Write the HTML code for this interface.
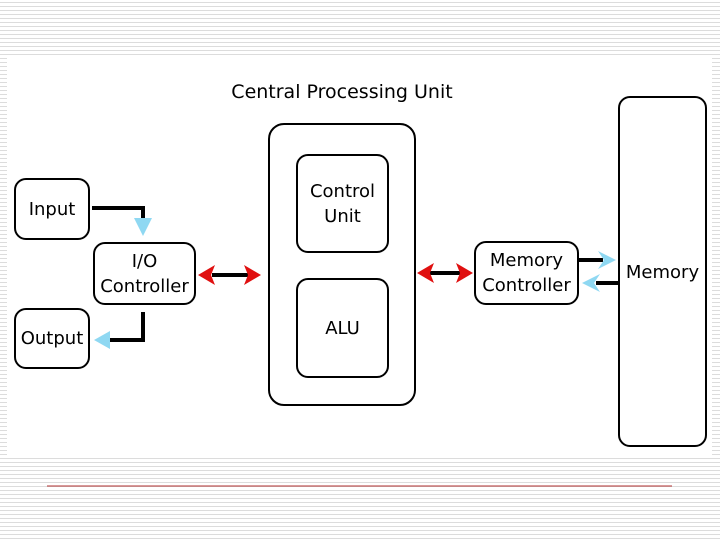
<!DOCTYPE html>
<html><head><style>
html,body{margin:0;padding:0}
body{width:720px;height:540px;position:relative;overflow:hidden;background:repeating-linear-gradient(to bottom,#fff 0,#fff 2px,#dcdcdc 2px,#dcdcdc 3px,#fff 3px,#fff 4px);font-family:"DejaVu Sans","Liberation Sans",sans-serif}
.w{position:absolute;left:7px;top:57px;width:705px;height:398px;background:#fff}
.b{position:absolute;border:2.5px solid #000;border-radius:12px;background:#fff;box-sizing:border-box;display:flex;align-items:center;justify-content:center;text-align:center;font-size:18px;line-height:25px;color:#000}
</style></head><body>
<div class="w"></div>
<div style="position:absolute;left:180px;top:81px;width:324px;text-align:center;font-size:19px;color:#000">Central Processing Unit</div>
<div class="b" style="left:268px;top:123px;width:148px;height:283px;border-radius:16px"></div>
<div class="b" style="left:296px;top:154px;width:93px;height:99px">Control<br>Unit</div>
<div class="b" style="left:296px;top:278px;width:93px;height:100px">ALU</div>
<div class="b" style="left:14px;top:178px;width:76px;height:62px">Input</div>
<div class="b" style="left:93px;top:242px;width:103px;height:63px">I/O<br>Controller</div>
<div class="b" style="left:14px;top:308px;width:76px;height:61px">Output</div>
<div class="b" style="left:474px;top:241px;width:105px;height:64px">Memory<br>Controller</div>
<div class="b" style="left:618px;top:96px;width:89px;height:351px;align-items:flex-start;padding-top:162px">Memory</div>
<svg style="position:absolute;left:0;top:0" width="720" height="540">
<g stroke="#000" stroke-width="4" fill="none">
<polyline points="92,208 143,208 143,222"/>
<polyline points="143,312 143,340 108,340"/>
<line x1="212" y1="275" x2="248" y2="275"/>
<line x1="430" y1="273" x2="462" y2="273"/>
<line x1="579" y1="260" x2="603" y2="260"/>
<line x1="618" y1="283" x2="596" y2="283"/>
</g>
<g fill="#8fd8f2">
<polygon points="134,218 152,218 143,236"/>
<polygon points="110,331 110,349 94,340"/>
<polygon points="598,251 616,260 598,269 604,260"/>
<polygon points="600,274 582,283 600,292 594,283"/>
</g>
<g fill="#e01010">
<polygon points="198,275 215,265 211,275 215,285"/>
<polygon points="261,275 244,265 248,275 244,285"/>
<polygon points="417,273 434,263 430,273 434,283"/>
<polygon points="473,273 456,263 460,273 456,283"/>
</g>
<line x1="47" y1="486" x2="672" y2="486" stroke="#b03030" stroke-width="1"/>
</svg>
</body></html>
